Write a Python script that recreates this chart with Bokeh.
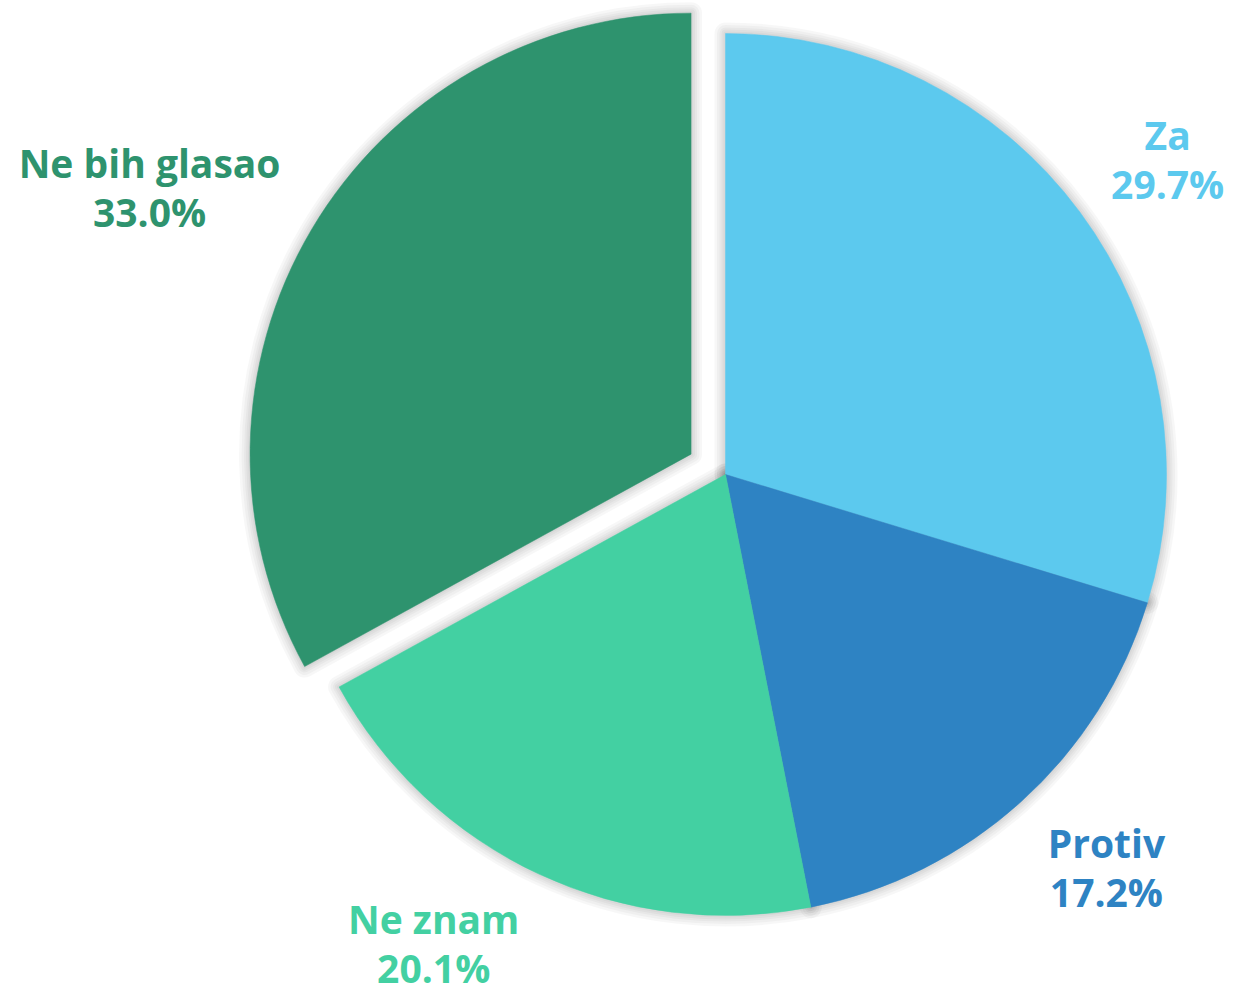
import math
from bokeh.plotting import figure
from bokeh.models import Range1d, ColumnDataSource
from bokeh.core.properties import value
from bokeh.embed import file_html
from bokeh.resources import INLINE

# ---- data ----
categories = ["Za", "Protiv", "Ne znam", "Ne bih glasao"]
shares = [29.7, 17.2, 20.1, 33.0]
colors = ["#5CC9EE", "#2E83C3", "#43D0A2", "#2E936E"]
exploded = [False, False, False, True]

# ---- layout (page pixel space mapped to data) ----
W, H = 1235, 988
def px(x):  # page x -> data x
    return x
def py(y):  # page y -> data y
    return H - y

CX, CY = 725, 474          # pie centre on the page
R = 441                    # radius in px
EXPLODE = 40               # explode offset in px
LABEL_R = 1.2 * R
label_dx = [17, 26, -68, -86]
label_dy = [0, 0, -11, 2]
LINE_GAP = 24.5
FONT = value("Open Sans")
FSIZE = "39px"

p = figure(width=W, height=H, output_backend="svg", toolbar_location=None,
           x_range=Range1d(0, W), y_range=Range1d(0, H),
           min_border=0)
p.axis.visible = False
p.grid.visible = False
p.outline_line_color = None
p.background_fill_color = "white"
p.border_fill_color = "white"

total = sum(shares)
starts, ends, xs, ys, mids = [], [], [], [], []
cum = 0.0
for v, ex in zip(shares, exploded):
    a0 = cum / total * 2 * math.pi
    a1 = (cum + v) / total * 2 * math.pi
    cum += v
    mid = (a0 + a1) / 2  # clockwise from top
    off = EXPLODE if ex else 0
    cx = CX + off * math.sin(mid)
    cy = CY - off * math.cos(mid)
    starts.append(math.pi / 2 - a0)
    ends.append(math.pi / 2 - a1)
    xs.append(px(cx))
    ys.append(py(cy))
    mids.append(mid)

src = ColumnDataSource(dict(x=xs, y=ys, start=starts, end=ends, color=colors))

# soft shadow (stacked translucent strokes)
for lw in [22, 17, 12, 8, 4]:
    p.wedge(x="x", y="y", radius=R, start_angle="start", end_angle="end",
            direction="clock", source=src, fill_alpha=0,
            line_color="black", line_alpha=0.03, line_width=lw,
            line_join="round")

p.wedge(x="x", y="y", radius=R, start_angle="start", end_angle="end",
        direction="clock", source=src, fill_color="color", line_color="color",
        line_width=0.5)

# labels
for i, (cat, v, col) in enumerate(zip(categories, shares, colors)):
    cx = xs[i]
    cyp = H - ys[i]
    lx = cx + LABEL_R * math.sin(mids[i]) + label_dx[i]
    ly = cyp - LABEL_R * math.cos(mids[i]) + label_dy[i]
    p.text(x=[px(lx)], y=[py(ly - LINE_GAP)], text=[cat], text_color=col,
           text_font=FONT, text_font_style="bold",
           text_font_size=FSIZE, text_align="center",
           text_baseline="alphabetic")
    p.text(x=[px(lx)], y=[py(ly + LINE_GAP)], text=["{:.1f}%".format(v)],
           text_color=col, text_font=FONT, text_font_style="bold",
           text_font_size=FSIZE, text_align="center",
           text_baseline="alphabetic")

open("out.html", "w").write(file_html(p, INLINE))
